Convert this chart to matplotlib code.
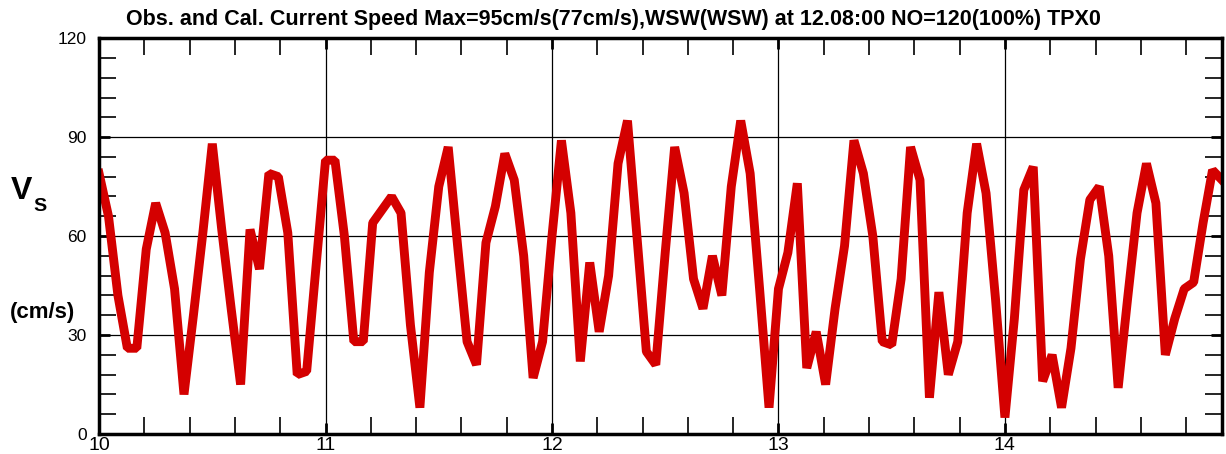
import numpy as np
import matplotlib
matplotlib.use('Agg')
import matplotlib.pyplot as plt
from matplotlib.ticker import MultipleLocator

plt.rcParams['font.family'] = ['Liberation Sans', 'DejaVu Sans']

# hourly current speed (cm/s), 120 records starting at day 10
start_day = 10.0
speed = [79, 66, 42, 26, 26, 56, 70, 61, 44, 12,
         36, 61, 88, 62, 38, 15, 62, 50, 79, 78,
         61, 18, 19, 51, 83, 83, 60, 28, 28, 64,
         68, 72, 67, 33, 8, 49, 75, 87, 57, 28,
         21, 58, 69, 85, 77, 54, 17, 28, 60, 89,
         67, 22, 52, 31, 48, 82, 95, 60, 25, 21,
         55, 87, 73, 47, 38, 54, 42, 75, 95, 79,
         44, 8, 44, 55, 76, 20, 31, 15, 38, 57,
         89, 79, 60, 28, 27, 47, 87, 77, 11, 43,
         18, 28, 67, 88, 73, 41, 5, 35, 74, 81,
         16, 24, 8, 26, 53, 71, 75, 54, 14, 41,
         67, 82, 70, 24, 35, 44, 46, 64, 80, 77]
day = start_day + np.arange(len(speed)) / 24.0

title = ('Obs. and Cal. Current Speed Max=95cm/s(77cm/s),WSW(WSW) '
         'at 12.08:00 NO=120(100%) TPX0')

fig = plt.figure(figsize=(12.26, 4.54), dpi=100)
ax = fig.add_axes([0.0808, 0.044, 0.9159, 0.872])

ax.plot(day, speed, color='#d40000', lw=6.4, solid_joinstyle='bevel', zorder=3)

ax.set_xlim(10, day[-1])
ax.set_ylim(0, 120)
ax.xaxis.set_major_locator(MultipleLocator(1))
ax.xaxis.set_minor_locator(MultipleLocator(0.2))
ax.yaxis.set_major_locator(MultipleLocator(30))
ax.yaxis.set_minor_locator(MultipleLocator(6))
ax.grid(True, which='major', color='black', lw=0.9, zorder=1)

ax.tick_params(which='both', direction='in', top=True, right=True)
ax.tick_params(which='major', length=8, width=2)
ax.tick_params(which='minor', length=12, width=1.2)
ax.tick_params(axis='y', labelsize=12.5, pad=9)
ax.tick_params(axis='x', labelsize=14, pad=2)
for s in ax.spines.values():
    s.set_linewidth(2.5)
    s.set_zorder(4)

fig.text(0.5, 0.958, title, ha='center', va='center', fontsize=15.5,
         fontweight='bold')
fig.text(0.009, 0.58, 'V', fontsize=23, fontweight='bold', ha='left',
         va='center')
fig.text(0.027, 0.545, 'S', fontsize=14, fontweight='bold', ha='left',
         va='center')
fig.text(0.008, 0.312, '(cm/s)', fontsize=16, fontweight='bold', ha='left',
         va='center')

fig.savefig('out.png', dpi=100)
